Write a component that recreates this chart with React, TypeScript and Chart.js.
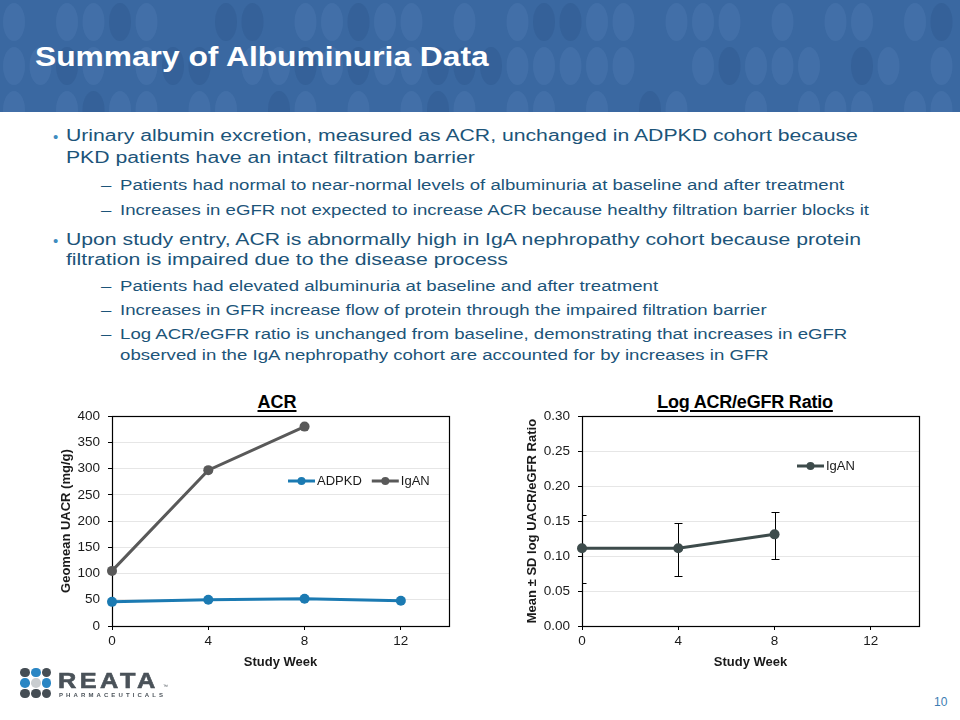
import React, { useEffect, useRef } from "react";
import { Chart, registerables } from "chart.js";

Chart.register(...registerables);
Chart.defaults.font.family = "'Liberation Sans', Arial, sans-serif";

// ---------- data ----------
const weekTicks = [0, 4, 8, 12];
const acrWeeksAdpkd = [0, 4, 8, 12];
const acrAdpkd = [46, 50, 52, 48];
const acrWeeksIgan = [0, 4, 8];
const acrIgan = [105, 297, 380];
const ratioWeeks = [0, 4, 8];
const ratioIgan = [0.111, 0.111, 0.131];
const ratioSdLow = [0.061, 0.072, 0.096];
const ratioSdHigh = [0.159, 0.147, 0.163];

const bulletLines = [
  { lvl: 1, bullet: true, top: 127.5, text: "Urinary albumin excretion, measured as ACR, unchanged in ADPKD cohort because" },
  { lvl: 1, top: 149.5, text: "PKD patients have an intact filtration barrier" },
  { lvl: 2, dash: true, top: 178, text: "Patients had normal to near-normal levels of albuminuria at baseline and after treatment" },
  { lvl: 2, dash: true, top: 202.5, text: "Increases in eGFR not expected to increase ACR because healthy filtration barrier blocks it" },
  { lvl: 1, bullet: true, top: 231.5, text: "Upon study entry, ACR is abnormally high in IgA nephropathy cohort because protein" },
  { lvl: 1, top: 252, text: "filtration is impaired due to the disease process" },
  { lvl: 2, dash: true, top: 278.5, text: "Patients had elevated albuminuria at baseline and after treatment" },
  { lvl: 2, dash: true, top: 303, text: "Increases in GFR increase flow of protein through the impaired filtration barrier" },
  { lvl: 2, dash: true, top: 327, text: "Log ACR/eGFR ratio is unchanged from baseline, demonstrating that increases in eGFR" },
  { lvl: 2, top: 348, text: "observed in the IgA nephropathy cohort are accounted for by increases in GFR" },
];

const headerShades = [
  "l.lldl..dd.lldll.l.lddll.lll.l.ll.ld",
  "lldl.ldd.lldldlldddlllll..ldlll.dl.l",
  "l.ldll.ll.dl.l.ldl.ll.l.dl..l.lll.ll",
];

// ---------- plugins ----------
const framePlugin = {
  id: "frame",
  beforeDatasetsDraw(chart: any) {
    const { ctx, chartArea } = chart;
    const l = Math.round(chartArea.left) + 0.5;
    const t = Math.round(chartArea.top) + 0.5;
    const r = Math.round(chartArea.right) + 0.5;
    const b = Math.round(chartArea.bottom) + 0.5;
    ctx.save();
    ctx.strokeStyle = "#000";
    ctx.lineWidth = 1.2;
    ctx.strokeRect(l, t, r - l, b - t);
    ctx.restore();
  },
};

const errorBarPlugin = {
  id: "errorBars",
  beforeDatasetsDraw(chart: any, _args: any, opts: any) {
    if (!opts || !opts.low) return;
    const { ctx, chartArea, scales } = chart;
    ctx.save();
    ctx.beginPath();
    ctx.rect(chartArea.left, chartArea.top, chartArea.right - chartArea.left, chartArea.bottom - chartArea.top);
    ctx.clip();
    ctx.strokeStyle = "#000";
    ctx.lineWidth = 1;
    opts.xs.forEach((xv: number, i: number) => {
      const x = Math.round(scales.x.getPixelForValue(xv)) + 0.5;
      const yl = Math.round(scales.y.getPixelForValue(opts.low[i])) + 0.5;
      const yh = Math.round(scales.y.getPixelForValue(opts.high[i])) + 0.5;
      ctx.beginPath();
      ctx.moveTo(x, yl);
      ctx.lineTo(x, yh);
      ctx.moveTo(x - 4, yl);
      ctx.lineTo(x + 4, yl);
      ctx.moveTo(x - 4, yh);
      ctx.lineTo(x + 4, yh);
      ctx.stroke();
    });
    ctx.restore();
  },
};

const insideLegendPlugin = {
  id: "insideLegend",
  afterDraw(chart: any, _args: any, opts: any) {
    if (!opts || opts.x == null) return;
    const { ctx } = chart;
    let x = opts.x;
    const y = opts.y;
    ctx.save();
    ctx.font = "13px 'Liberation Sans', Arial, sans-serif";
    ctx.textBaseline = "middle";
    chart.data.datasets.forEach((ds: any) => {
      ctx.strokeStyle = ds.borderColor;
      ctx.lineWidth = 3;
      ctx.beginPath();
      ctx.moveTo(x, y);
      ctx.lineTo(x + 27, y);
      ctx.stroke();
      ctx.fillStyle = ds.borderColor;
      ctx.beginPath();
      ctx.arc(x + 13.5, y, 4, 0, Math.PI * 2);
      ctx.fill();
      ctx.fillStyle = "#1a1a1a";
      ctx.fillText(ds.label, x + 29, y + 0.5);
      x += 29 + ctx.measureText(ds.label).width + 10;
    });
    ctx.restore();
  },
};

function makeOptions(cfg: any) {
  return {
    responsive: false,
    maintainAspectRatio: false,
    animation: false,
    layout: { padding: { top: 15, right: 11, left: cfg.padLeft, bottom: 0 } },
    plugins: {
      legend: { display: false },
      tooltip: { enabled: false },
      title: { display: false },
      errorBars: cfg.errorBars || {},
      insideLegend: cfg.legend,
    },
    scales: {
      x: {
        type: "linear",
        min: 0,
        max: 14,
        afterBuildTicks: (s: any) => {
          s.ticks = weekTicks.map((v) => ({ value: v }));
        },
        afterFit: (s: any) => {
          s.height = 44;
        },
        grid: { drawOnChartArea: false, drawTicks: true, tickLength: 4, tickColor: "#000", tickWidth: 1 },
        border: { display: false },
        ticks: { font: { size: 13.5 }, color: "#1a1a1a", padding: 3, maxRotation: 0, autoSkip: false },
        title: {
          display: true,
          text: "Study Week",
          font: { size: 13, weight: "bold" },
          color: "#1a1a1a",
          padding: { top: 0, bottom: 0 },
        },
      },
      y: {
        min: cfg.yMin,
        max: cfg.yMax,
        afterFit: (s: any) => {
          s.width = cfg.yWidth;
        },
        ticks: { stepSize: cfg.yStep, font: { size: 13.5 }, color: "#1a1a1a", padding: 8, callback: cfg.fmt },
        grid: { color: "#e6e6e6", tickColor: "#000", tickLength: 4, lineWidth: 1 },
        border: { display: false },
        title: {
          display: true,
          text: cfg.yTitle,
          font: { size: 13, weight: "bold" },
          color: "#1a1a1a",
          padding: { top: 0, bottom: 0 },
        },
      },
    },
  };
}

function lineDs(label: string, xs: number[], ys: number[], color: string) {
  return {
    label,
    data: xs.map((x, i) => ({ x, y: ys[i] })),
    borderColor: color,
    backgroundColor: color,
    borderWidth: 3,
    pointRadius: 5,
    pointBackgroundColor: color,
    pointBorderColor: color,
    pointBorderWidth: 0,
    tension: 0,
    clip: false,
  };
}

function AcrChart() {
  const ref = useRef<HTMLCanvasElement>(null);
  useEffect(() => {
    const chart = new Chart(ref.current as HTMLCanvasElement, {
      type: "line",
      data: {
        datasets: [
          lineDs("ADPKD", acrWeeksAdpkd, acrAdpkd, "#1b7ab2"),
          lineDs("IgAN", acrWeeksIgan, acrIgan, "#595959"),
        ],
      },
      options: makeOptions({
        padLeft: 19,
        yWidth: 53,
        yMin: 0,
        yMax: 400,
        yStep: 50,
        yTitle: "Geomean UACR (mg/g)",
        fmt: (v: any) => String(v),
        legend: { x: 248, y: 81 },
      }) as any,
      plugins: [framePlugin, insideLegendPlugin],
    });
    return () => chart.destroy();
  }, []);
  return (
    <canvas
      ref={ref}
      width={420}
      height={270}
      style={{ position: "absolute", left: 40, top: 400, width: 420, height: 270 }}
    />
  );
}

function RatioChart() {
  const ref = useRef<HTMLCanvasElement>(null);
  useEffect(() => {
    const chart = new Chart(ref.current as HTMLCanvasElement, {
      type: "line",
      data: {
        datasets: [lineDs("IgAN", ratioWeeks, ratioIgan, "#3d4b4b")],
      },
      options: makeOptions({
        padLeft: 35,
        yWidth: 57,
        yMin: 0,
        yMax: 0.3,
        yStep: 0.05,
        yTitle: "Mean \u00B1 SD log UACR/eGFR Ratio",
        fmt: (v: any) => Number(v).toFixed(2),
        legend: { x: 307, y: 66 },
        errorBars: { xs: ratioWeeks, low: ratioSdLow, high: ratioSdHigh },
      }) as any,
      plugins: [framePlugin, errorBarPlugin, insideLegendPlugin],
    });
    return () => chart.destroy();
  }, []);
  return (
    <canvas
      ref={ref}
      width={440}
      height={270}
      style={{ position: "absolute", left: 490, top: 400, width: 440, height: 270 }}
    />
  );
}

function Header() {
  const ellipses: any[] = [];
  const rowsY = [22, 66, 110];
  headerShades.forEach((row, r) => {
    for (let c = 0; c < row.length; c++) {
      const ch = row[c];
      if (ch === ".") continue;
      ellipses.push(
        <ellipse
          key={r + "-" + c}
          cx={14 + c * 26.5}
          cy={rowsY[r]}
          rx={11}
          ry={19}
          fill={ch === "l" ? "rgba(120,165,220,0.13)" : "rgba(25,55,100,0.13)"}
        />
      );
    }
  });
  return (
    <svg width={960} height={112} style={{ position: "absolute", left: 0, top: 0, display: "block" }}>
      <rect x={0} y={0} width={960} height={112} fill="#3a68a1" />
      {ellipses}
    </svg>
  );
}

export default function App() {
  useEffect(() => {
    document.body.style.margin = "0";
  }, []);
  const font = "'Liberation Sans', Arial, sans-serif";
  const textColor = "#1c5479";
  const dots = [
    ["#454d54", "#2a86c4", "#454d54"],
    ["#2a86c4", "#c9cdd0", "#2a86c4"],
    ["#454d54", "#454d54", "#454d54"],
  ];
  return (
    <div
      style={{
        position: "absolute",
        left: 0,
        top: 0,
        width: 960,
        height: 720,
        overflow: "hidden",
        background: "#fff",
        fontFamily: font,
      }}
    >
      <Header />
      <div
        style={{
          position: "absolute",
          left: 35,
          top: 43.3,
          fontSize: 28,
          lineHeight: "28px",
          fontWeight: "bold",
          color: "#fff",
          whiteSpace: "nowrap",
          transform: "scaleX(1.133)",
          transformOrigin: "0 0",
        }}
      >
        Summary of Albuminuria Data
      </div>

      {/* bullets (unscaled) */}
      {bulletLines
        .filter((l) => l.bullet)
        .map((l, i) => (
          <div
            key={"b" + i}
            style={{
              position: "absolute",
              left: 53,
              top: l.top + 1,
              fontSize: 15,
              lineHeight: "16px",
              color: "#3f8cbf",
            }}
          >
            {"\u2022"}
          </div>
        ))}

      <div
        style={{
          position: "absolute",
          left: 0,
          top: 0,
          width: 725,
          height: 400,
          transform: "scaleX(1.325)",
          transformOrigin: "0 0",
          color: textColor,
        }}
      >
        {bulletLines.map((l, i) => (
          <React.Fragment key={i}>
            {l.dash && (
              <div
                style={{
                  position: "absolute",
                  left: 76.2,
                  top: l.top,
                  fontSize: 14.05,
                  lineHeight: "14.05px",
                  whiteSpace: "nowrap",
                }}
              >
                {"\u2013"}
              </div>
            )}
            <div
              style={{
                position: "absolute",
                left: l.lvl === 1 ? 49.8 : 90.6,
                top: l.top,
                fontSize: l.lvl === 1 ? 16 : 14.05,
                lineHeight: l.lvl === 1 ? "16px" : "14.05px",
                whiteSpace: "nowrap",
              }}
            >
              {l.text}
            </div>
          </React.Fragment>
        ))}
      </div>

      {/* chart titles */}
      <div
        style={{
          position: "absolute",
          left: 177,
          width: 200,
          top: 393,
          textAlign: "center",
          fontSize: 18,
          lineHeight: "18px",
          fontWeight: "bold",
          color: "#000",
          textDecoration: "underline",
          textDecorationThickness: "2px",
          textUnderlineOffset: "2px",
        }}
      >
        ACR
      </div>
      <div
        style={{
          position: "absolute",
          left: 595,
          width: 300,
          top: 393,
          textAlign: "center",
          fontSize: 18,
          lineHeight: "18px",
          fontWeight: "bold",
          color: "#000",
          letterSpacing: "-0.2px",
          textDecoration: "underline",
          textDecorationThickness: "2px",
          textUnderlineOffset: "2px",
        }}
      >
        Log ACR/eGFR Ratio
      </div>

      <AcrChart />
      <RatioChart />

      {/* logo */}
      {dots.map((row, r) =>
        row.map((c, k) => (
          <div
            key={"d" + r + k}
            style={{
              position: "absolute",
              left: 25 + k * 10.8 - 4.8,
              top: 672.7 + r * 10.3 - 4.8,
              width: 9.6,
              height: 9.6,
              borderRadius: "50%",
              background: c,
            }}
          />
        ))
      )}
      <div
        style={{
          position: "absolute",
          left: 58,
          top: 669.5,
          fontSize: 22,
          lineHeight: "22px",
          fontWeight: "bold",
          color: "#4a5259",
          letterSpacing: "3px",
          transform: "scaleX(1.15)",
          transformOrigin: "0 0",
          whiteSpace: "nowrap",
          WebkitTextStroke: "0.6px #4a5259",
        }}
      >
        REATA
      </div>
      <div
        style={{
          position: "absolute",
          left: 163,
          top: 684,
          fontSize: 5,
          lineHeight: "5px",
          color: "#4a5259",
        }}
      >
        {"\u2122"}
      </div>
      <div
        style={{
          position: "absolute",
          left: 59,
          top: 692,
          fontSize: 6,
          lineHeight: "6px",
          fontWeight: "bold",
          color: "#4a5259",
          letterSpacing: "3.1px",
          whiteSpace: "nowrap",
        }}
      >
        PHARMACEUTICALS
      </div>

      <div
        style={{
          position: "absolute",
          left: 934,
          top: 695.8,
          fontSize: 12,
          lineHeight: "12px",
          color: "#3d7db3",
        }}
      >
        10
      </div>
    </div>
  );
}
